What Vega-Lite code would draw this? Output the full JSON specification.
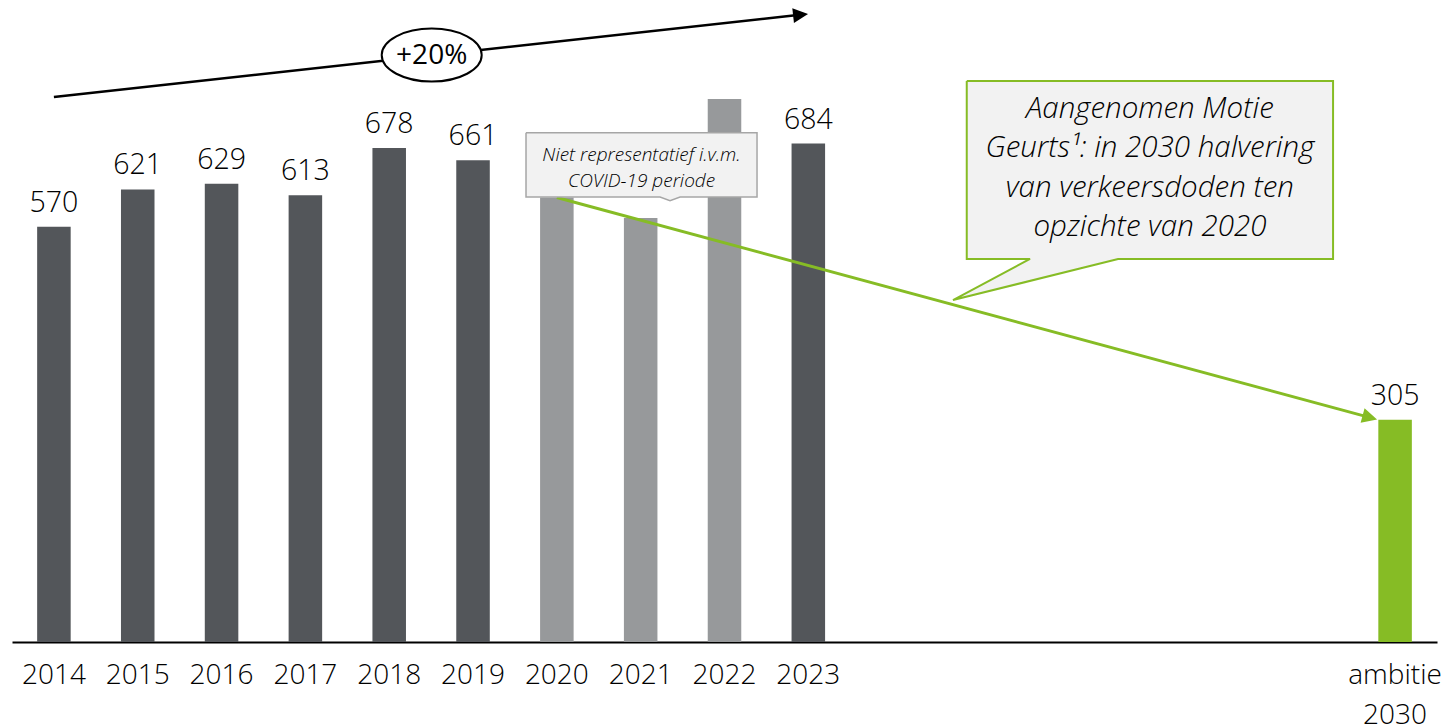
{
  "$schema": "https://vega.github.io/schema/vega-lite/v6.json",
  "width": 1425,
  "height": 642,
  "autosize": "none",
  "padding": {"left": 12, "top": 0, "right": 8, "bottom": 83},
  "background": "#ffffff",
  "config": {"view": {"stroke": null}, "font": "Open Sans"},
  "datasets": {
    "deaths": [
      {"year": "2014", "value": 570, "kind": "actual"},
      {"year": "2015", "value": 621, "kind": "actual"},
      {"year": "2016", "value": 629, "kind": "actual"},
      {"year": "2017", "value": 613, "kind": "actual"},
      {"year": "2018", "value": 678, "kind": "actual"},
      {"year": "2019", "value": 661, "kind": "actual"},
      {"year": "2020", "value": 610, "kind": "covid"},
      {"year": "2021", "value": 582, "kind": "covid"},
      {"year": "2022", "value": 745, "kind": "covid"},
      {"year": "2023", "value": 684, "kind": "actual"},
      {"year": "ambitie 2030", "value": 305, "kind": "ambitie"}
    ]
  },
  "resolve": {"scale": {"x": "independent"}, "axis": {"x": "independent"}},
  "layer": [
    {
      "data": {"name": "deaths"},
      "encoding": {
        "x": {
          "field": "year",
          "type": "ordinal",
          "scale": {
            "domain": ["2014","2015","2016","2017","2018","2019","2020","2021","2022","2023","2024","2025","2026","2027","2028","2029","ambitie 2030"],
            "paddingInner": 0.6,
            "paddingOuter": 0.3
          },
          "axis": {
            "title": null,
            "labelAngle": 0,
            "ticks": false,
            "grid": false,
            "domainColor": "#000000",
            "domainWidth": 2,
            "labelFont": "Open Sans",
            "labelFontWeight": 300,
            "labelFontSize": 28,
            "labelColor": "#000000",
            "labelBaseline": "alphabetic",
            "labelPadding": 41,
            "labelLineHeight": 40,
            "labelOverlap": false,
            "labelExpr": "datum.value == 'ambitie 2030' ? ['ambitie', '2030'] : (toNumber(datum.value) > 2023 ? '' : datum.value)"
          }
        },
        "y": {
          "field": "value",
          "type": "quantitative",
          "scale": {"domain": [0, 881], "nice": false, "zero": true},
          "axis": null
        }
      },
      "layer": [
        {
          "mark": {"type": "bar"},
          "encoding": {
            "color": {
              "field": "kind",
              "type": "nominal",
              "scale": {"domain": ["actual", "covid", "ambitie"], "range": ["#53565A", "#97999B", "#86BC25"]},
              "legend": null
            }
          }
        },
        {
          "transform": [{"filter": "datum.kind != 'covid'"}],
          "mark": {"type": "text", "baseline": "alphabetic", "dy": -15, "fontSize": 28.5, "fontWeight": 300, "font": "Open Sans", "color": "#000000"},
          "encoding": {"text": {"field": "value", "type": "quantitative"}}
        }
      ]
    },
    {
      "data": {"values": [
        {"x": 0, "y": 748, "o": 0},
        {"x": 8.901, "y": 860.6, "o": 1}
      ]},
      "mark": {"type": "line", "color": "#000000", "strokeWidth": 2.5},
      "encoding": {
        "x": {"field": "x", "type": "quantitative", "scale": {"domain": [-0.5, 16.5], "nice": false, "zero": false}, "axis": null},
        "y": {"field": "y", "type": "quantitative", "axis": null},
        "order": {"field": "o"}
      }
    },
    {
      "data": {"values": [{"x": 8.9966, "y": 861.8}]},
      "mark": {"type": "point", "shape": "M0,0L-2,-1L-2,1Z", "size": 225, "filled": true, "color": "#000000", "opacity": 1, "angle": 353.7},
      "encoding": {
        "x": {"field": "x", "type": "quantitative", "scale": {"domain": [-0.5, 16.5], "nice": false, "zero": false}, "axis": null},
        "y": {"field": "y", "type": "quantitative", "axis": null}
      }
    },
    {
      "data": {"values": [{"x": 4.507, "y": 805.5, "label": "+20%"}]},
      "encoding": {
        "x": {"field": "x", "type": "quantitative", "scale": {"domain": [-0.5, 16.5], "nice": false, "zero": false}, "axis": null},
        "y": {"field": "y", "type": "quantitative", "axis": null}
      },
      "layer": [
        {"mark": {"type": "point", "shape": "M-1,0A1,0.53,0,1,1,1,0A1,0.53,0,1,1,-1,0Z", "size": 10000, "filled": false, "fill": "#ffffff", "fillOpacity": 1, "stroke": "#000000", "strokeWidth": 2, "opacity": 1}},
        {"mark": {"type": "text", "fontSize": 28, "font": "Open Sans", "fontWeight": 400, "baseline": "middle", "align": "center", "color": "#000000", "dy": 1}, "encoding": {"text": {"field": "label"}}}
      ]
    },
    {
      "data": {"values": [
        {"x": 6, "y": 610, "o": 0},
        {"x": 15.693, "y": 308.2, "o": 1}
      ]},
      "mark": {"type": "line", "color": "#86BC25", "strokeWidth": 3},
      "encoding": {
        "x": {"field": "x", "type": "quantitative", "scale": {"domain": [-0.5, 16.5], "nice": false, "zero": false}, "axis": null},
        "y": {"field": "y", "type": "quantitative", "axis": null},
        "order": {"field": "o"}
      }
    },
    {
      "data": {"values": [{"x": 15.785, "y": 305.3}]},
      "mark": {"type": "point", "shape": "M0,0L-2,-1L-2,1Z", "size": 225, "filled": true, "color": "#86BC25", "opacity": 1, "angle": 15.2},
      "encoding": {
        "x": {"field": "x", "type": "quantitative", "scale": {"domain": [-0.5, 16.5], "nice": false, "zero": false}, "axis": null},
        "y": {"field": "y", "type": "quantitative", "axis": null}
      }
    },
    {
      "data": {"values": [
        {"id": "covid", "x": 5.632, "x2": 8.388, "y": 698.9, "y2": 610.7},
        {"id": "motie", "x": 10.890, "x2": 15.260, "y": 769.8, "y2": 525.6}
      ]},
      "mark": {"type": "rect", "color": "#F2F2F2", "opacity": 1},
      "encoding": {
        "x": {"field": "x", "type": "quantitative", "scale": {"domain": [-0.5, 16.5], "nice": false, "zero": false}, "axis": null},
        "x2": {"field": "x2"},
        "y": {"field": "y", "type": "quantitative", "axis": null},
        "y2": {"field": "y2"}
      }
    },
    {
      "data": {"values": [
        {"id": "covid", "x": 7.231, "y": 610.7, "y2": 610.7},
        {"id": "covid", "x": 7.350, "y": 610.7, "y2": 605.6},
        {"id": "covid", "x": 7.470, "y": 610.7, "y2": 610.7},
        {"id": "motie", "x": 10.726, "y": 469.3, "y2": 469.3},
        {"id": "motie", "x": 11.645, "y": 526.5, "y2": 495.6},
        {"id": "motie", "x": 12.695, "y": 526.5, "y2": 525.6}
      ]},
      "mark": {"type": "area", "color": "#F2F2F2", "opacity": 1, "orient": "vertical"},
      "encoding": {
        "x": {"field": "x", "type": "quantitative", "scale": {"domain": [-0.5, 16.5], "nice": false, "zero": false}, "axis": null},
        "y": {"field": "y", "type": "quantitative", "axis": null},
        "y2": {"field": "y2"},
        "detail": {"field": "id"}
      }
    },
    {
      "data": {"values": [
        {"id": "covid", "o": 0, "x": 5.632, "y": 698.9},
        {"id": "covid", "o": 1, "x": 8.388, "y": 698.9},
        {"id": "covid", "o": 2, "x": 8.388, "y": 610.7},
        {"id": "covid", "o": 3, "x": 7.470, "y": 610.7},
        {"id": "covid", "o": 4, "x": 7.350, "y": 605.6},
        {"id": "covid", "o": 5, "x": 7.231, "y": 610.7},
        {"id": "covid", "o": 6, "x": 5.632, "y": 610.7},
        {"id": "covid", "o": 7, "x": 5.632, "y": 698.9}
      ]},
      "mark": {"type": "line", "color": "#A6A6A6", "strokeWidth": 1.5},
      "encoding": {
        "x": {"field": "x", "type": "quantitative", "scale": {"domain": [-0.5, 16.5], "nice": false, "zero": false}, "axis": null},
        "y": {"field": "y", "type": "quantitative", "axis": null},
        "order": {"field": "o"}
      }
    },
    {
      "data": {"values": [
        {"id": "motie", "o": 0, "x": 10.890, "y": 769.8},
        {"id": "motie", "o": 1, "x": 15.260, "y": 769.8},
        {"id": "motie", "o": 2, "x": 15.260, "y": 525.6},
        {"id": "motie", "o": 3, "x": 12.695, "y": 525.6},
        {"id": "motie", "o": 4, "x": 10.726, "y": 469.3},
        {"id": "motie", "o": 5, "x": 11.645, "y": 525.6},
        {"id": "motie", "o": 6, "x": 10.890, "y": 525.6},
        {"id": "motie", "o": 7, "x": 10.890, "y": 769.8}
      ]},
      "mark": {"type": "line", "color": "#86BC25", "strokeWidth": 2},
      "encoding": {
        "x": {"field": "x", "type": "quantitative", "scale": {"domain": [-0.5, 16.5], "nice": false, "zero": false}, "axis": null},
        "y": {"field": "y", "type": "quantitative", "axis": null},
        "order": {"field": "o"}
      }
    },
    {
      "data": {"values": [
        {"x": 7.010, "y": 660.5, "lines": ["Niet representatief i.v.m.", "COVID-19 periode"]}
      ]},
      "mark": {"type": "text", "font": "Open Sans", "fontSize": 19, "fontStyle": "italic", "fontWeight": 300, "align": "center", "baseline": "alphabetic", "lineHeight": 26, "color": "#000000"},
      "encoding": {
        "x": {"field": "x", "type": "quantitative", "scale": {"domain": [-0.5, 16.5], "nice": false, "zero": false}, "axis": null},
        "y": {"field": "y", "type": "quantitative", "axis": null},
        "text": {"field": "lines"}
      }
    },
    {
      "data": {"values": [
        {"x": 13.075, "y": 719.1, "lines": ["Aangenomen Motie", "Geurts¹: in 2030 halvering", "van verkeersdoden ten", "opzichte van 2020"]}
      ]},
      "mark": {"type": "text", "font": "Open Sans", "fontSize": 29.5, "fontStyle": "italic", "fontWeight": 300, "align": "center", "baseline": "alphabetic", "lineHeight": 39.5, "color": "#000000"},
      "encoding": {
        "x": {"field": "x", "type": "quantitative", "scale": {"domain": [-0.5, 16.5], "nice": false, "zero": false}, "axis": null},
        "y": {"field": "y", "type": "quantitative", "axis": null},
        "text": {"field": "lines"}
      }
    }
  ]
}
